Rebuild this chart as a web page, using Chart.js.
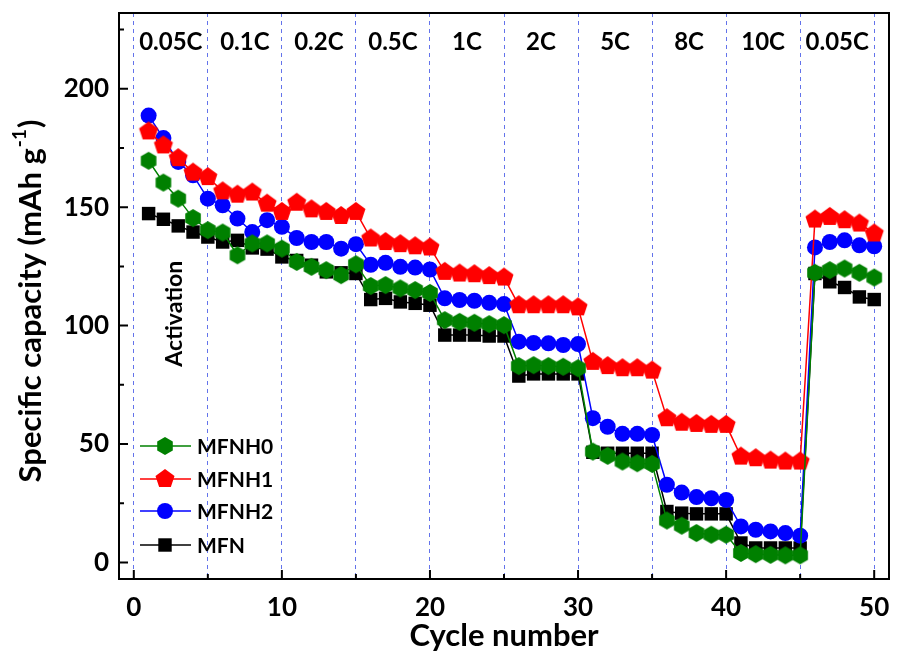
<!DOCTYPE html>
<html>
<head>
<meta charset="utf-8">
<script src="https://cdn.jsdelivr.net/npm/chart.js@4/dist/chart.umd.min.js"></script>
<style>
  html, body { margin: 0; padding: 0; background: #fff; }
  canvas { display: block; }
</style>
</head>
<body>
<canvas id="rateChart" width="899" height="662"></canvas>
<script>
const cycles = [1,2,3,4,5,6,7,8,9,10,11,12,13,14,15,16,17,18,19,20,21,22,23,24,25,
    26,27,28,29,30,31,32,33,34,35,36,37,38,39,40,41,42,43,44,45,46,47,48,49,50];

const mfnh0 = [169.6,160.4,153.6,145.4,140.3,139.3,129.7,134.7,134.7,132.5,
    126.9,124.8,123.4,121.3,125.9,116.7,117.1,115.7,115.0,113.8,
    102.3,101.6,101.2,100.6,100.2,82.9,83.3,82.9,82.6,82.0,
    46.8,45.0,42.6,41.9,41.6,17.7,15.5,12.4,11.7,11.7,
    4.0,3.5,3.2,3.0,3.0,122.3,123.4,124.1,122.3,120.3];

const mfnh1 = [182.0,176.1,170.7,164.6,162.7,156.7,155.3,156.2,151.5,148.0,
    151.9,149.1,148.0,146.3,148.0,136.8,135.3,134.4,133.5,133.0,
    122.7,122.0,121.7,120.9,120.3,108.6,108.6,108.6,108.6,107.7,
    84.7,82.9,82.0,82.0,81.0,60.9,59.0,58.5,58.1,58.1,
    44.7,44.0,43.0,42.6,42.6,144.8,145.9,144.5,143.1,138.9];

const mfnh2 = [188.7,179.2,169.1,163.5,153.6,150.8,145.2,139.5,144.5,141.7,
    137.0,135.3,135.3,132.5,134.4,125.7,126.5,124.8,124.5,123.7,
    111.5,110.8,110.5,109.6,109.1,93.2,92.7,92.5,91.8,92.2,
    60.9,57.3,54.3,54.3,53.8,32.8,29.5,27.6,27.1,26.4,
    15.2,13.8,13.1,12.4,11.3,133.0,135.3,136.0,133.9,133.5];

const mfn = [147.3,144.9,142.1,139.5,137.4,135.3,136.0,132.8,132.3,129.0,
    127.5,125.5,122.7,122.3,122.0,111.0,111.5,110.0,109.4,108.6,
    96.0,96.0,96.0,95.6,95.6,78.7,79.6,79.6,79.6,79.6,
    46.5,46.1,46.1,46.1,46.1,21.5,20.8,20.5,20.5,20.5,
    8.2,6.1,6.1,6.1,6.1,122.0,118.5,116.1,112.1,111.0];

// C-rate labels, one per 5-cycle block
const rateLabels = ['0.05C','0.1C','0.2C','0.5C','1C','2C','5C','8C','10C','0.05C'];
const rateBounds = [0,5,10,15,20,25,30,35,40,45,50];

const FONT = 'Lato';
Chart.defaults.font.family = FONT;
Chart.defaults.font.weight = 'bold';
Chart.defaults.color = '#000';

// polygon markers for the green and red series
function polygonMarker(sides, r, color, rot) {
    const c = document.createElement('canvas');
    const s = Math.ceil(2 * r + 2);
    c.width = s;
    c.height = s;
    const g = c.getContext('2d');
    g.fillStyle = color;
    g.beginPath();
    for (let i = 0; i < sides; i++) {
        const a = rot + i * 2 * Math.PI / sides;
        const px = s / 2 + r * Math.cos(a);
        const py = s / 2 + r * Math.sin(a);
        if (i === 0) g.moveTo(px, py); else g.lineTo(px, py);
    }
    g.closePath();
    g.fill();
    return c;
}

const GREEN = '#008000';
const RED = '#ff0000';
const BLUE = '#0000ff';
const BLACK = '#000000';

const hexagon = polygonMarker(6, 9, GREEN, -Math.PI / 2);
const pentagon = polygonMarker(5, 10, RED, -Math.PI / 2);

function toPoints(arr) {
    return arr.map((v, i) => ({ x: cycles[i], y: v }));
}

const extras = {
    id: 'extras',
    afterDraw(chart) {
        const ctx = chart.ctx;
        const area = chart.chartArea;
        const xs = chart.scales.x;
        const ys = chart.scales.y;
        ctx.save();

        // frame
        ctx.strokeStyle = '#000';
        ctx.lineWidth = 2;
        ctx.strokeRect(area.left, area.top, area.right - area.left, area.bottom - area.top);

        // inward tick marks
        ctx.beginPath();
        for (let v = 0; v <= 50; v += 5) {
            const px = xs.getPixelForValue(v);
            const len = v % 10 === 0 ? 9 : 5;
            ctx.moveTo(px, area.bottom);
            ctx.lineTo(px, area.bottom - len);
        }
        for (let v = 0; v <= 225; v += 25) {
            const py = ys.getPixelForValue(v);
            const len = v % 50 === 0 ? 9 : 5;
            ctx.moveTo(area.left, py);
            ctx.lineTo(area.left + len, py);
        }
        ctx.stroke();

        // rate labels
        ctx.fillStyle = '#000';
        ctx.font = 'bold 24px ' + FONT;
        ctx.textAlign = 'center';
        ctx.textBaseline = 'middle';
        rateLabels.forEach((t, i) => {
            const mid = (rateBounds[i] + rateBounds[i + 1]) / 2;
            ctx.fillText(t, xs.getPixelForValue(mid), 42);
        });

        // Activation note
        ctx.save();
        ctx.translate(xs.getPixelForValue(2.75), ys.getPixelForValue(105));
        ctx.rotate(-Math.PI / 2);
        ctx.font = 'bold 23px ' + FONT;
        ctx.fillText('Activation', 0, 0);
        ctx.restore();

        // y axis title with superscript
        ctx.save();
        ctx.translate(31, 302);
        ctx.rotate(-Math.PI / 2);
        const main = 'Specific capacity (mAh g';
        const sup = '-1';
        const tail = ')';
        ctx.font = 'bold 31px ' + FONT;
        const w1 = ctx.measureText(main).width;
        const w3 = ctx.measureText(tail).width;
        ctx.font = 'bold 19px ' + FONT;
        const w2 = ctx.measureText(sup).width;
        const x0 = -(w1 + w2 + w3) / 2;
        ctx.textAlign = 'left';
        ctx.font = 'bold 31px ' + FONT;
        ctx.fillText(main, x0, 0);
        ctx.font = 'bold 19px ' + FONT;
        ctx.fillText(sup, x0 + w1 + 1, -11);
        ctx.font = 'bold 31px ' + FONT;
        ctx.fillText(tail, x0 + w1 + w2 + 2, 0);
        ctx.restore();

        // legend
        const rowY = [446, 479, 511, 545];
        ctx.font = 'bold 21px ' + FONT;
        ctx.textAlign = 'left';
        chart.data.datasets.forEach((ds, i) => {
            const y = rowY[i];
            ctx.strokeStyle = ds.borderColor;
            ctx.lineWidth = 1.5;
            ctx.beginPath();
            ctx.moveTo(140, y);
            ctx.lineTo(191, y);
            ctx.stroke();
            ctx.fillStyle = ds.pointBackgroundColor;
            Chart.helpers.drawPoint(ctx, {
                pointStyle: ds.pointStyle,
                radius: ds.pointRadius,
                borderWidth: 0,
                rotation: 0
            }, 165, y);
            ctx.fillStyle = '#000';
            ctx.fillText(ds.label, 197, y + 1);
        });

        ctx.restore();
    }
};

function series(label, data, color, style, radius) {
    return {
        label: label,
        data: toPoints(data),
        borderColor: color,
        backgroundColor: color,
        pointBackgroundColor: color,
        pointBorderColor: color,
        pointBorderWidth: 0,
        pointStyle: style,
        pointRadius: radius,
        borderWidth: 1.5,
        tension: 0
    };
}

new Chart(document.getElementById('rateChart').getContext('2d'), {
    type: 'line',
    data: {
        datasets: [
            series('MFNH0', mfnh0, GREEN, hexagon, 9),
            series('MFNH1', mfnh1, RED, pentagon, 10),
            series('MFNH2', mfnh2, BLUE, 'circle', 8),
            series('MFN', mfn, BLACK, 'rect', 9.5)
        ]
    },
    options: {
        responsive: false,
        animation: false,
        layout: { padding: { top: 13, right: 0, left: 0, bottom: 0 } },
        plugins: {
            legend: { display: false },
            tooltip: { enabled: false }
        },
        scales: {
            x: {
                type: 'linear',
                min: -1,
                max: 51,
                afterFit: s => {
                    s.height = 83;
                    s.paddingLeft = 0;
                    s.paddingRight = 0;
                },
                border: { display: false, dash: [4, 4] },
                grid: {
                    color: 'rgba(60, 80, 230, 0.8)',
                    lineWidth: 1,
                    drawTicks: false
                },
                ticks: {
                    stepSize: 5,
                    includeBounds: false,
                    padding: 13,
                    font: { size: 26, weight: 'bold' },
                    maxRotation: 0,
                    autoSkip: false,
                    callback: v => (v % 10 === 0 ? v : '')
                },
                title: {
                    display: true,
                    text: 'Cycle number',
                    font: { size: 31, weight: 'bold' },
                    padding: { top: 0, bottom: 7 }
                }
            },
            y: {
                min: -7,
                max: 232,
                afterFit: s => {
                    s.width = 119;
                    s.paddingTop = 0;
                    s.paddingBottom = 0;
                },
                border: { display: false },
                grid: { display: false, drawTicks: false },
                ticks: {
                    stepSize: 25,
                    includeBounds: false,
                    padding: 10,
                    font: { size: 26, weight: 'bold' },
                    callback: v => (v % 50 === 0 ? v : '')
                }
            }
        }
    },
    plugins: [extras]
});
</script>
</body>
</html>
